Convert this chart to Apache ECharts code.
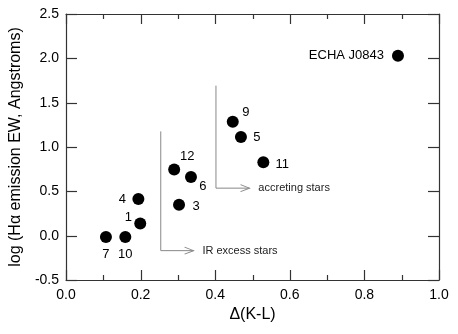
<!DOCTYPE html>
<html>
<head>
<meta charset="utf-8">
<script src="https://cdn.jsdelivr.net/npm/echarts@6/dist/echarts.min.js"></script>
<style>
  html, body { margin: 0; padding: 0; background: #fff; }
  #main { width: 458px; height: 334px; }
</style>
</head>
<body>
<div id="main"></div>
<script>
// star data: Delta(K-L) vs log(H-alpha EW)
var star_names = ['7', '10', '4', '1', '12', '6', '3', '9', '5', '11', 'ECHA J0843'];
var delta_kl = [0.107, 0.159, 0.194, 0.199, 0.290, 0.335, 0.303, 0.447, 0.469, 0.529, 0.890];
var log_ha = [-0.014, -0.014, 0.414, 0.136, 0.745, 0.662, 0.350, 1.286, 1.113, 0.827, 2.03];

// bracket annotations (corner lines with arrow)
var ir_bracket_x = [0.254, 0.254, 0.342];
var ir_bracket_y = [1.176, -0.169, -0.169];
var acc_bracket_x = [0.402, 0.402, 0.492];
var acc_bracket_y = [1.692, 0.536, 0.536];
var bracket_texts = ['IR excess stars', 'accreting stars'];

// axis ranges and tick steps
var x_min = 0, x_max = 1, x_step = 0.2;
var y_min = -0.5, y_max = 2.5, y_step = 0.5;

var font = 'Liberation Sans, Arial, sans-serif';
var axis_color = '#333';
var bracket_color = '#888';

// where each point label sits, offset from the dot centre
var label_offsets = {
    '7': [0, 18], '10': [0, 18], '4': [-16, 0], '1': [-12, -6],
    '12': [13, -13], '6': [12, 9], '3': [17, 2],
    '9': [13, -9], '5': [16, 0], '11': [19, 2]
};

var star_data = [];
for (var i = 0; i < star_names.length; i++) {
    var item = { name: star_names[i], value: [delta_kl[i], log_ha[i]] };
    if (label_offsets[star_names[i]]) {
        item.label = { position: 'inside', offset: label_offsets[star_names[i]], align: 'center' };
    } else {
        item.label = { position: 'left', distance: 8, align: 'right' };
    }
    star_data.push(item);
}

function pairs(xs, ys) {
    var out = [];
    for (var k = 0; k < xs.length; k++) out.push([xs[k], ys[k]]);
    return out;
}

function bracket_series(xs, ys, text) {
    var n = xs.length - 1;
    return [{
        type: 'line',
        data: pairs(xs, ys),
        showSymbol: false,
        symbol: 'none',
        lineStyle: { color: bracket_color, width: 1 }
    }, {
        type: 'scatter',
        data: [[xs[n], ys[n]]],
        symbol: 'path://M0,0L10,5L0,10',
        symbolSize: [9, 7],
        symbolOffset: [-4.5, 0],
        itemStyle: { color: 'none', borderColor: bracket_color, borderWidth: 1, opacity: 1 },
        label: {
            show: true,
            position: 'right',
            distance: 6,
            formatter: text,
            color: '#222',
            fontFamily: font,
            fontSize: 11
        }
    }];
}

function x_axis(pos, show_label) {
    return {
        type: 'value',
        position: pos,
        min: x_min,
        max: x_max,
        interval: x_step,
        name: show_label ? 'Δ(K-L)' : '',
        nameLocation: 'middle',
        nameGap: 27,
        nameTextStyle: { color: '#000', fontFamily: font, fontSize: 16 },
        axisLine: { show: true, onZero: false, lineStyle: { color: axis_color, width: 1.2 } },
        axisTick: { show: false },
        axisLabel: {
            show: show_label, margin: 8, color: '#000', fontFamily: font, fontSize: 14,
            formatter: function (v) { return v.toFixed(1); }
        },
        splitLine: { show: false }
    };
}

function y_axis(pos, show_label) {
    return {
        type: 'value',
        position: pos,
        min: y_min,
        max: y_max,
        interval: y_step,
        name: show_label ? 'log (Hα emission EW, Angstroms)' : '',
        nameLocation: 'middle',
        nameGap: 34,
        nameTextStyle: { color: '#000', fontFamily: font, fontSize: 16 },
        axisLine: { show: true, onZero: false, lineStyle: { color: axis_color, width: 1.2 } },
        axisTick: { show: false },
        axisLabel: {
            show: show_label, margin: 7, color: '#000', fontFamily: font, fontSize: 14,
            formatter: function (v) { return v.toFixed(1); }
        },
        splitLine: { show: false }
    };
}

var chart = echarts.init(document.getElementById('main'));

var series = [{
    type: 'scatter',
    data: star_data,
    symbolSize: 12,
    itemStyle: { color: '#000', opacity: 1 },
    label: {
        show: true,
        formatter: '{b}',
        color: '#000',
        fontFamily: font,
        fontSize: 13,
        verticalAlign: 'middle'
    }
}];
series = series.concat(bracket_series(ir_bracket_x, ir_bracket_y, bracket_texts[0]));
series = series.concat(bracket_series(acc_bracket_x, acc_bracket_y, bracket_texts[1]));

chart.setOption({
    animation: false,
    grid: { left: 65, right: 19, top: 14, bottom: 54 },
    xAxis: [x_axis('bottom', true), x_axis('top', false)],
    yAxis: [y_axis('left', true), y_axis('right', false)],
    series: series
});

// inward ticks on all four sides, placed through the grid's own scale
function to_px(x, y) {
    return chart.convertToPixel({ gridIndex: 0 }, [x, y]);
}
var tick_style = { stroke: axis_color, lineWidth: 1.2 };
var marks = [];
var corner_lo = to_px(x_min, y_min);
var corner_hi = to_px(x_max, y_max);
var nx = Math.round((x_max - x_min) / (x_step / 2));
for (var t = 0; t <= nx; t++) {
    var xp = Math.round(to_px(x_min + t * x_step / 2, y_min)[0]) + 0.5;
    var len = (t % 2 === 0) ? 10 : 5;
    marks.push({ type: 'line', z: 100, silent: true, style: tick_style,
        shape: { x1: xp, y1: corner_lo[1], x2: xp, y2: corner_lo[1] - len } });
    marks.push({ type: 'line', z: 100, silent: true, style: tick_style,
        shape: { x1: xp, y1: corner_hi[1], x2: xp, y2: corner_hi[1] + len } });
}
var ny = Math.round((y_max - y_min) / y_step);
for (var s = 0; s <= ny; s++) {
    var yp = Math.round(to_px(x_min, y_min + s * y_step)[1]) + 0.5;
    marks.push({ type: 'line', z: 100, silent: true, style: tick_style,
        shape: { x1: corner_lo[0], y1: yp, x2: corner_lo[0] + 11, y2: yp } });
    marks.push({ type: 'line', z: 100, silent: true, style: tick_style,
        shape: { x1: corner_hi[0], y1: yp, x2: corner_hi[0] - 11, y2: yp } });
}
chart.setOption({ graphic: { elements: marks } });
</script>
</body>
</html>
